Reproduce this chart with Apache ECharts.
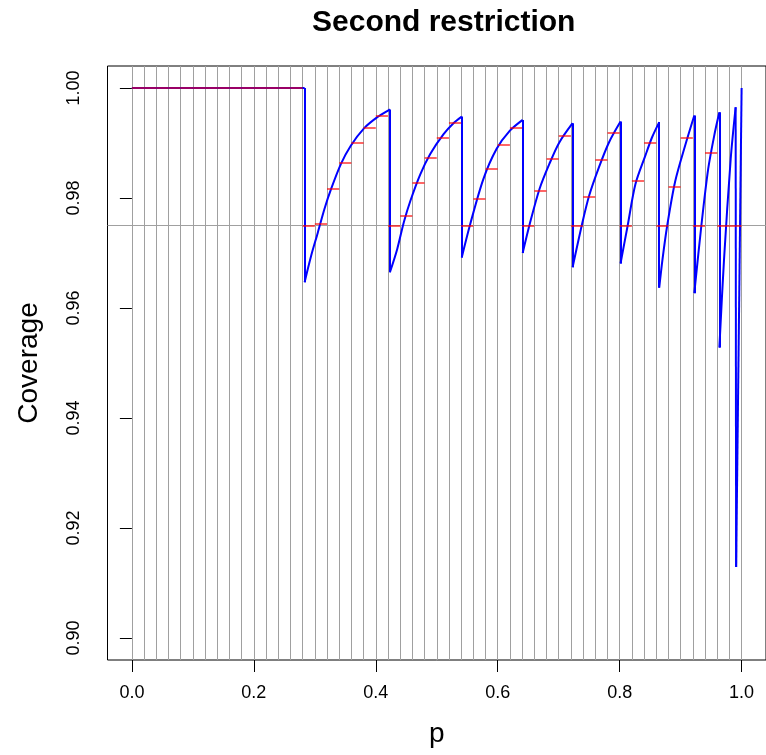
<!DOCTYPE html>
<html lang="en">
<head>
    <meta charset="UTF-8">
    <title>Second restriction</title>
    <style>
        html, body {
            margin: 0;
            padding: 0;
            background: #ffffff;
        }
        #main {
            width: 766px;
            height: 755px;
        }
    </style>
    <script type="text/javascript" src="https://cdn.jsdelivr.net/npm/echarts@6/dist/echarts.min.js"></script>
</head>
<body>
<div id="main"></div>
<script type="text/javascript">
    // coverage curve, one array per "tooth"
    var toothP = [
        [0, 0.2833],
        [0.2833, 0.294, 0.3049, 0.3158, 0.3266, 0.3429, 0.359, 0.381, 0.4026, 0.4232],
        [0.4232, 0.4351, 0.446, 0.4568, 0.473, 0.4893, 0.5112, 0.5274, 0.541],
        [0.541, 0.5545, 0.5763, 0.598, 0.6196, 0.6409],
        [0.6409, 0.6521, 0.6684, 0.6847, 0.701, 0.7228],
        [0.7228, 0.738, 0.7499, 0.7661, 0.7824, 0.8014],
        [0.8014, 0.8133, 0.8258, 0.8421, 0.853, 0.8649],
        [0.8649, 0.8703, 0.878, 0.891, 0.9073, 0.9224],
        [0.9224, 0.934, 0.9452, 0.9561, 0.9635],
        [0.9635, 0.9712, 0.9821, 0.9902],
        [0.9910, 1.0]
    ];
    var toothCov = [
        [1, 1],
        [0.9647, 0.9695, 0.9737, 0.9780, 0.9816, 0.9862, 0.9895, 0.9927, 0.9947, 0.9961],
        [0.9665, 0.9707, 0.9756, 0.9795, 0.9843, 0.9880, 0.9916, 0.9936, 0.9948],
        [0.9692, 0.9751, 0.9834, 0.9889, 0.9922, 0.9942],
        [0.9700, 0.9751, 0.9816, 0.9862, 0.9901, 0.9936],
        [0.9674, 0.9751, 0.9804, 0.9856, 0.9901, 0.9939],
        [0.9681, 0.9751, 0.9825, 0.9877, 0.9910, 0.9938],
        [0.9637, 0.9689, 0.9750, 0.9830, 0.9895, 0.9950],
        [0.9627, 0.9750, 0.9853, 0.9919, 0.9956],
        [0.9528, 0.9689, 0.9871, 0.9965],
        [0.9129, 1.0]
    ];

    // grid of p values (vertical lines), red segments sit between neighbours
    var gridP = [0, 0.02, 0.04, 0.06, 0.08, 0.10, 0.12, 0.14, 0.16, 0.18,
        0.20, 0.22, 0.24, 0.26, 0.28, 0.30, 0.32, 0.34, 0.36, 0.38,
        0.40, 0.42, 0.44, 0.46, 0.48, 0.50, 0.52, 0.54, 0.56, 0.58,
        0.60, 0.62, 0.64, 0.66, 0.68, 0.70, 0.72, 0.74, 0.76, 0.78,
        0.80, 0.82, 0.84, 0.86, 0.88, 0.90, 0.92, 0.94, 0.96, 0.98, 1.00];
    var redCov = [1, 1, 1, 1, 1, 1, 1, 1, 1, 1, 1, 1, 1, 1,
        0.975, 0.9754, 0.9817, 0.9865, 0.9901, 0.9928, 0.9950,
        0.975, 0.9767, 0.9827, 0.9874, 0.9909, 0.9936,
        0.975, 0.9798, 0.9854, 0.9897, 0.9928,
        0.975, 0.9814, 0.9871, 0.9913,
        0.975, 0.9802, 0.9870, 0.9918,
        0.975, 0.9831, 0.9900,
        0.975, 0.9820, 0.9910,
        0.975, 0.9882,
        0.975, 0.975];

    var xTicks = [0, 0.2, 0.4, 0.6, 0.8, 1.0];
    var yTicks = [0.90, 0.92, 0.94, 0.96, 0.98, 1.00];
    var refLevel = 0.975;

    var redData = [];
    for (var k = 0; k < redCov.length; k++) {
        redData.push({coords: [[gridP[k], redCov[k]], [gridP[k + 1], redCov[k]]]});
    }
    var vLines = [];
    for (var j = 0; j < gridP.length; j++) {
        vLines.push({xAxis: gridP[j]});
    }
    vLines.push({yAxis: refLevel});

    var series = [{
        name: 'grid',
        type: 'line',
        data: [],
        z: 1,
        silent: true,
        markLine: {
            silent: true,
            z: 1,
            precision: 4,
            symbol: ['none', 'none'],
            label: {show: false},
            lineStyle: {color: '#a0a0a0', width: 1, type: 'solid'},
            data: vLines
        }
    }];

    // the jumps between teeth
    var drops = [];
    for (var t = 0; t < toothP.length; t++) {
        var pts = [];
        for (var i = 0; i < toothP[t].length; i++) {
            pts.push([toothP[t][i], toothCov[t][i]]);
        }
        series.push({
            name: 'Coverage',
            type: 'line',
            data: pts,
            z: 2,
            smooth: pts.length > 2 ? 0.3 : false,
            showSymbol: false,
            lineStyle: {color: '#0000ff', width: 2}
        });
        if (t > 0) {
            var prev = toothP[t - 1].length - 1;
            drops.push({coords: [[toothP[t - 1][prev], toothCov[t - 1][prev]], [toothP[t][0], toothCov[t][0]]]});
        }
    }
    series.push({
        name: 'Drops',
        type: 'lines',
        coordinateSystem: 'cartesian2d',
        z: 2,
        data: drops,
        lineStyle: {color: '#0000ff', width: 2, opacity: 1}
    });
    series.push({
        name: 'Average',
        type: 'lines',
        coordinateSystem: 'cartesian2d',
        z: 3,
        data: redData,
        lineStyle: {color: '#ff0000', width: 2, opacity: 0.6}
    });

    var chart = echarts.init(document.getElementById('main'));
    var font = 'Liberation Sans, Arial, sans-serif';
    var option = {
        animation: false,
        title: {
            text: 'Second restriction',
            left: 307,
            top: 3,
            textStyle: {fontFamily: font, fontSize: 30, fontWeight: 'bold', color: '#000'}
        },
        grid: {
            left: 107.5,
            top: 66,
            width: 663.5,
            height: 594,
            show: true,
            borderColor: '#000',
            borderWidth: 1,
            backgroundColor: 'transparent'
        },
        xAxis: {
            type: 'value',
            min: -0.04,
            max: 1.04,
            name: 'p',
            nameLocation: 'middle',
            nameGap: 60,
            nameTextStyle: {fontFamily: font, fontSize: 28, color: '#000'},
            axisLine: {show: false},
            splitLine: {show: false},
            axisTick: {show: true, inside: false, length: 12, customValues: xTicks,
                lineStyle: {color: '#000', width: 1}},
            axisLabel: {customValues: xTicks, margin: 24, fontFamily: font, fontSize: 18, color: '#000',
                formatter: function (v) { return v.toFixed(1); }}
        },
        yAxis: {
            type: 'value',
            min: 0.896,
            max: 1.004,
            name: 'Coverage',
            nameLocation: 'middle',
            nameGap: 64,
            nameTextStyle: {fontFamily: font, fontSize: 28, color: '#000'},
            axisLine: {show: false},
            splitLine: {show: false},
            axisTick: {show: true, inside: false, length: 12, customValues: yTicks,
                lineStyle: {color: '#000', width: 1}},
            axisLabel: {customValues: yTicks, margin: 24, rotate: 90, fontFamily: font, fontSize: 18, color: '#000',
                formatter: function (v) { return v.toFixed(2); }}
        },
        series: series
    };
    chart.setOption(option);
</script>
</body>
</html>
